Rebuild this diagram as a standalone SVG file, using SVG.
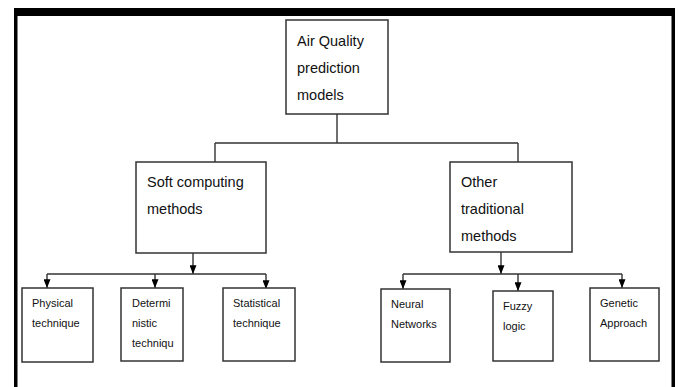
<svg xmlns="http://www.w3.org/2000/svg" width="678" height="387" viewBox="0 0 678 387">
<defs>
<marker id="arr" viewBox="0 0 10 8" refX="10" refY="4" markerWidth="10" markerHeight="7" markerUnits="userSpaceOnUse" orient="auto">
<path d="M0,0 L10,4 L0,8 z" fill="#000"/>
</marker>
<style>
.box{fill:#fff;stroke:#333;stroke-width:1.5}
.ln{fill:none;stroke:#333;stroke-width:1.4}
.ar{fill:none;stroke:#333;stroke-width:1.4;marker-end:url(#arr)}
.big{font-family:"Liberation Sans",Arial,sans-serif;font-size:14.5px;fill:#111}
.sm{font-family:"Liberation Sans",Arial,sans-serif;font-size:11px;fill:#111}
</style>
</defs>
<rect width="678" height="387" fill="#fff"/>
<g id="frame">
<rect x="14" y="8" width="661" height="8" fill="#000"/>
<rect x="14" y="8" width="3.5" height="379" fill="#000"/>
<rect x="671.5" y="8" width="3.5" height="379" fill="#000"/>
</g>
<g id="connectors">
<path class="ln" d="M337,114 V143 M215,143 H518 M215,143 V162 M518,143 V162"/>
<path class="ar" d="M193,253 V274"/>
<path class="ln" d="M47,274 H266"/>
<path class="ar" d="M47,274 V288"/>
<path class="ar" d="M155,274 V288"/>
<path class="ar" d="M266,274 V289"/>
<path class="ar" d="M501,252 V274"/>
<path class="ln" d="M403,274 H622"/>
<path class="ar" d="M403,274 V289"/>
<path class="ar" d="M518,274 V291"/>
<path class="ar" d="M622,274 V288"/>
</g>
<g id="root">
<rect class="box" x="286" y="20" width="102" height="94"/>
<text class="big" x="297" y="46">Air Quality</text>
<text class="big" x="297" y="73">prediction</text>
<text class="big" x="297" y="100">models</text>
</g>
<g id="soft">
<rect class="box" x="136" y="162" width="130" height="91"/>
<text class="big" x="147" y="187">Soft computing</text>
<text class="big" x="147" y="214">methods</text>
</g>
<g id="other">
<rect class="box" x="450" y="162" width="122" height="90"/>
<text class="big" x="461" y="187">Other</text>
<text class="big" x="461" y="214">traditional</text>
<text class="big" x="461" y="241">methods</text>
</g>
<g id="physical">
<rect class="box" x="22" y="288" width="71" height="74"/>
<text class="sm" x="32" y="307">Physical</text>
<text class="sm" x="32" y="327">technique</text>
</g>
<g id="deterministic">
<rect class="box" x="121" y="288" width="62" height="73"/>
<text class="sm" x="132" y="307">Determi</text>
<text class="sm" x="132" y="327">nistic</text>
<text class="sm" x="132" y="347">techniqu</text>
</g>
<g id="statistical">
<rect class="box" x="223" y="288" width="72" height="73"/>
<text class="sm" x="233" y="307">Statistical</text>
<text class="sm" x="233" y="327">technique</text>
</g>
<g id="neural">
<rect class="box" x="381" y="289" width="69" height="73"/>
<text class="sm" x="391" y="308">Neural</text>
<text class="sm" x="391" y="328">Networks</text>
</g>
<g id="fuzzy">
<rect class="box" x="493" y="291" width="60" height="70"/>
<text class="sm" x="503" y="310">Fuzzy</text>
<text class="sm" x="503" y="330">logic</text>
</g>
<g id="genetic">
<rect class="box" x="590" y="288" width="69" height="73"/>
<text class="sm" x="600" y="307">Genetic</text>
<text class="sm" x="600" y="327">Approach</text>
</g>
</svg>
